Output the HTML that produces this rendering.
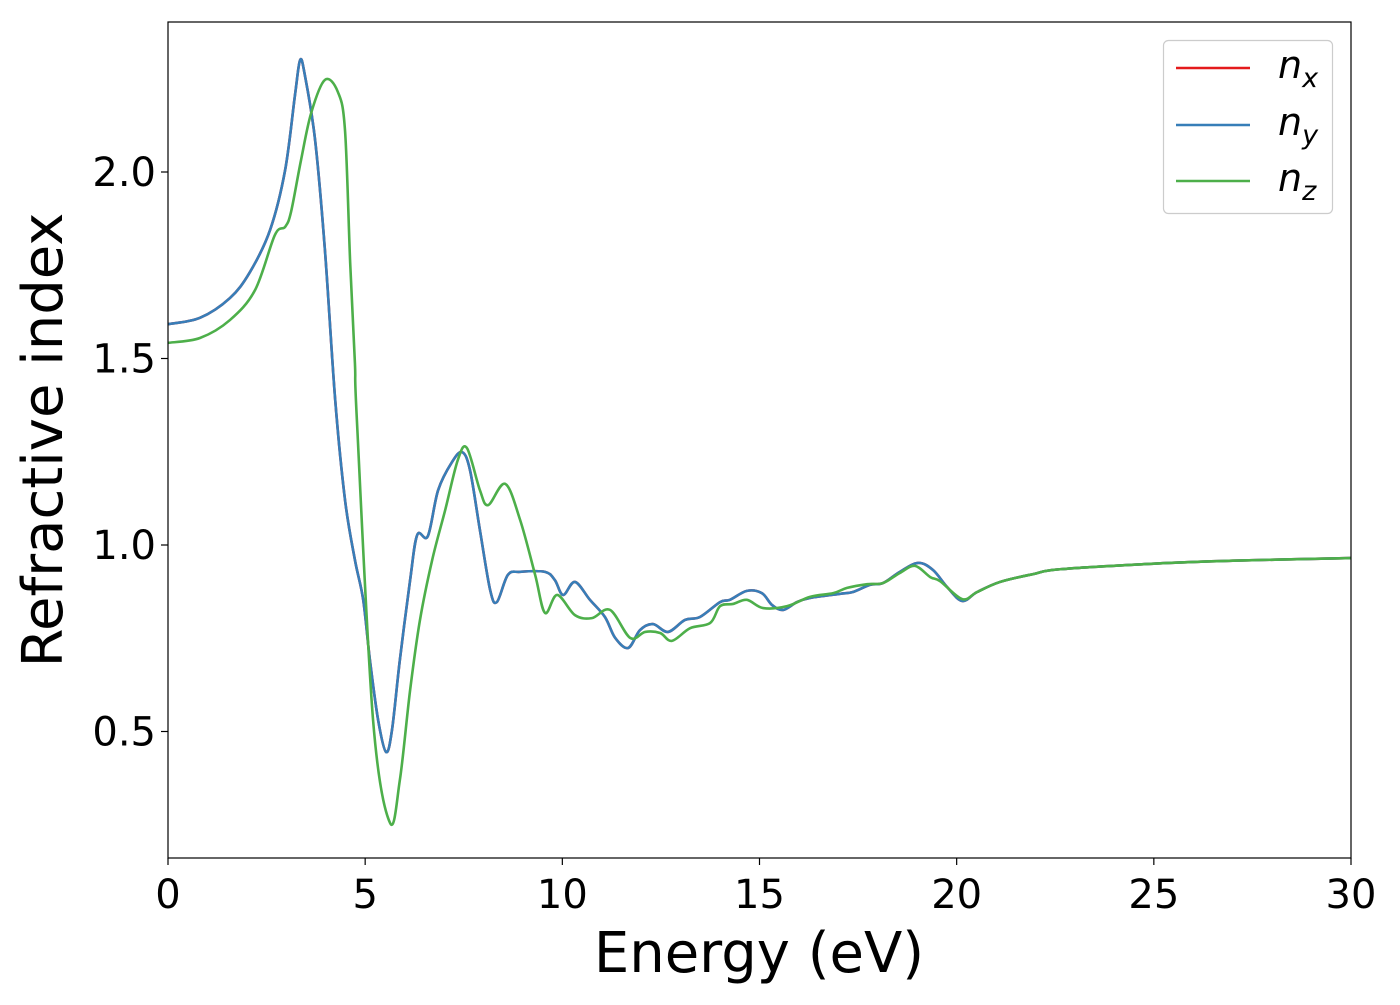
<!DOCTYPE html>
<html><head><meta charset="utf-8"><style>
body{margin:0;background:#fff}
svg text{font-family:"DejaVu Sans","Liberation Sans",sans-serif}
</style></head><body>
<svg width="1400" height="1000" xmlns="http://www.w3.org/2000/svg">
<g id="plot"></g>
</svg>
<script>
const xTicks=[0,5,10,15,20,25,30];
const yTicks=[0.5,1.0,1.5,2.0];
const yTickLabels=["0.5","1.0","1.5","2.0"];
const eBlue=[0,.81,1.57,2.08,2.59,2.97,3.22,3.35,3.47,3.73,3.98,4.24,4.49,4.74,4.95,5.12,5.33,5.53,5.68,5.88,6.14,6.32,6.59,6.85,7.2,7.46,7.66,7.91,8.17,8.34,8.62,8.93,9.56,9.81,10.02,10.32,10.7,11.08,11.34,11.67,11.97,12.3,12.68,13.11,13.49,14.0,14.25,14.68,15.06,15.32,15.6,15.95,16.28,17.04,17.37,17.8,18.13,18.56,19.02,19.4,19.76,20.14,20.52,21.1,21.94,22.62,25,27,30];
const nx=[1.592,1.609,1.662,1.732,1.845,2.005,2.206,2.30,2.26,2.086,1.79,1.389,1.12,0.96,0.853,0.692,0.53,0.445,0.504,0.692,0.906,1.027,1.024,1.147,1.222,1.249,1.2,1.04,0.879,0.847,0.92,0.928,0.928,0.906,0.866,0.901,0.853,0.807,0.751,0.724,0.772,0.788,0.767,0.799,0.807,0.847,0.853,0.877,0.871,0.839,0.826,0.847,0.858,0.869,0.874,0.893,0.898,0.928,0.952,0.933,0.887,0.850,0.874,0.901,0.922,0.935,0.95,0.958,0.965];
const ny=nx.slice();
const eGreen=[0,.81,1.57,2.21,2.71,2.97,3.12,3.37,3.63,3.98,4.31,4.49,4.62,4.74,4.79,5.2,5.63,5.88,6.14,6.39,6.7,7.03,7.35,7.58,7.91,8.12,8.55,8.93,9.31,9.56,9.87,10.32,10.75,11.21,11.72,12.1,12.48,12.78,13.24,13.75,14.0,14.33,14.68,15.09,15.7,16.28,16.87,17.22,17.73,18.13,18.56,18.94,19.33,19.58,20.14,20.52,21.1,21.94,22.62,25,27,30];
const nz=[1.542,1.555,1.603,1.684,1.831,1.853,1.893,2.03,2.158,2.247,2.214,2.11,1.756,1.488,1.335,0.531,0.255,0.370,0.611,0.799,0.96,1.094,1.228,1.26,1.147,1.107,1.164,1.067,0.92,0.818,0.866,0.812,0.804,0.826,0.751,0.767,0.764,0.743,0.777,0.791,0.836,0.842,0.853,0.831,0.836,0.861,0.871,0.885,0.895,0.898,0.925,0.944,0.914,0.903,0.855,0.874,0.901,0.922,0.935,0.95,0.958,0.965];

const L=168,R=1351,T=22,B=858;
const X=e=>L+(e-0)/(30-0)*(R-L);
const Y=n=>172+(2.0-n)*373;
const NS="http://www.w3.org/2000/svg";
const g=document.getElementById('plot');
function mk(tag,attrs,parent){const el=document.createElementNS(NS,tag);for(const k in attrs)el.setAttribute(k,attrs[k]);(parent||g).appendChild(el);return el;}
function path(es,vs){
  const p=es.map((e,i)=>[X(e),Y(vs[i])]);
  let d="M"+p[0][0]+","+p[0][1];
  for(let i=0;i<p.length-1;i++){
    const p0=p[i-1]||p[i],p1=p[i],p2=p[i+1],p3=p[i+2]||p2;
    const c1=[p1[0]+(p2[0]-p0[0])/6,p1[1]+(p2[1]-p0[1])/6];
    const c2=[p2[0]-(p3[0]-p1[0])/6,p2[1]-(p3[1]-p1[1])/6];
    d+=` C${c1[0]},${c1[1]} ${c2[0]},${c2[1]} ${p2[0]},${p2[1]}`;
  }
  return d;
}
const clip=mk('clipPath',{id:'c'});mk('rect',{x:L,y:T,width:R-L,height:B-T},clip);
const series=[[eBlue,nx,'#e41a1c','series-nx'],[eBlue,ny,'#377eb8','series-ny'],[eGreen,nz,'#4daf4a','series-nz']];
series.forEach(s=>{
  const el=mk('path',{d:path(s[0],s[1]),fill:'none',stroke:s[2],'stroke-width':2.6,'clip-path':'url(#c)'});
  
  
});
const frame=mk('rect',{x:L,y:T,width:R-L,height:B-T,fill:'none',stroke:'#000','stroke-width':1.2});


xTicks.forEach(t=>{
  mk('line',{x1:X(t),x2:X(t),y1:B,y2:B+7,stroke:'#000','stroke-width':1.2});
  const tx=mk('text',{x:X(t),y:908,'font-size':40,'text-anchor':'middle'});tx.textContent=t;
  
  
});
yTicks.forEach((t,i)=>{
  mk('line',{x1:L-7,x2:L,y1:Y(t),y2:Y(t),stroke:'#000','stroke-width':1.2});
  const tx=mk('text',{x:156,y:Y(t)+14,'font-size':40,'text-anchor':'end'});tx.textContent=yTickLabels[i];
  
  
});
const xl=mk('text',{x:759,y:972,'font-size':56,'text-anchor':'middle'});xl.textContent='Energy (eV)';


const yl=mk('text',{x:0,y:0,'font-size':56,'text-anchor':'middle',transform:'translate(62,440) rotate(-90)'});yl.textContent='Refractive index';


const lg=mk('rect',{x:1163.5,y:40.5,width:169,height:173,rx:5,fill:'#fff',stroke:'#ccc','stroke-width':1.2});


[['x','#e41a1c',68],['y','#377eb8',125],['z','#4daf4a',181]].forEach(l=>{
  mk('line',{x1:1176,x2:1250,y1:l[2],y2:l[2],stroke:l[1],'stroke-width':2.6});
  const t=mk('text',{x:1278,y:l[2]+10,'font-size':38,'font-style':'italic'});
  
  
  t.textContent='n';
  const s=mk('tspan',{'font-size':27,dy:9},t);s.textContent=l[0];
});
</script>
</body></html>
